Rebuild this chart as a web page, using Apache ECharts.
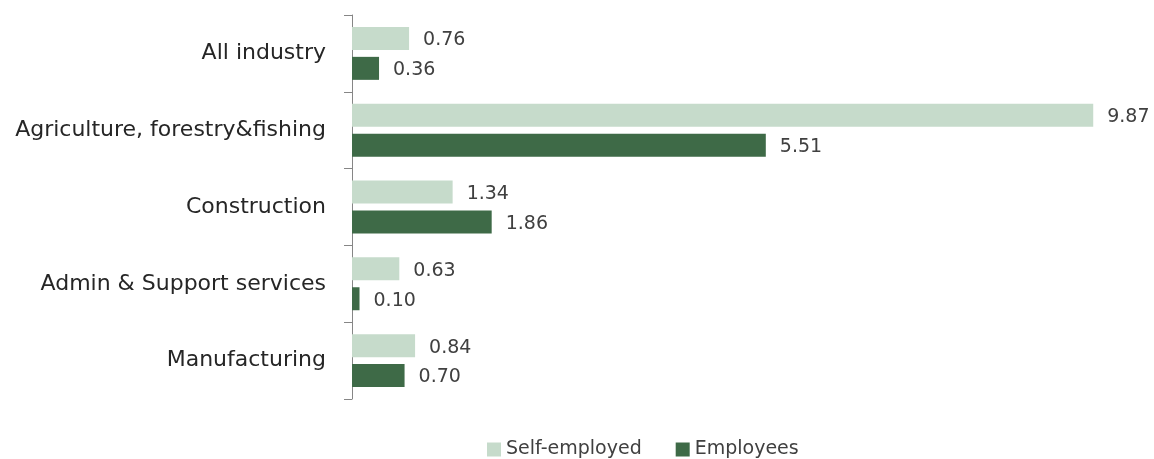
<!DOCTYPE html>
<html><head><meta charset="utf-8">
<script src="https://cdn.jsdelivr.net/npm/echarts@6/dist/echarts.min.js"></script>
<style>html,body{margin:0;padding:0;background:#fff}#c{width:1154px;height:459px}</style>
</head><body><div id="c"></div>
<script>
const categories = ["All industry", "Agriculture, forestry&fishing", "Construction", "Admin & Support services", "Manufacturing"];
const selfEmployed = [0.76, 9.87, 1.34, 0.63, 0.84];
const employees = [0.36, 5.51, 1.86, 0.10, 0.70];
const seriesNames = ["Self-employed", "Employees"];

const FONT = 'DejaVu Sans';
const chart = echarts.init(document.getElementById('c'));
const labelStyle = {show: true, position: 'right', distance: 14, offset: [0, 2], color: '#404040', fontSize: 19, fontFamily: FONT, formatter: p => p.value.toFixed(2)};
chart.setOption({
  animation: false,
  textStyle: {fontFamily: FONT},
  legend: {
    data: seriesNames, left: 482, top: 435, itemWidth: 14, itemHeight: 14, itemGap: 34,
    icon: 'rect', textStyle: {fontSize: 19, color: '#404040', fontFamily: FONT}
  },
  grid: {left: 352, right: 51, top: 15, bottom: 60, containLabel: false},
  xAxis: {type: 'value', min: 0, max: 10, show: false},
  yAxis: {
    type: 'category', data: categories, inverse: true,
    axisLine: {show: true, lineStyle: {color: '#868686', width: 1}},
    axisTick: {show: true, length: 8, lineStyle: {color: '#868686'}},
    axisLabel: {fontSize: 22, color: '#262626', margin: 26, fontFamily: FONT}
  },
  series: [
    {name: seriesNames[0], type: 'bar', data: selfEmployed, barWidth: 23, barGap: '30%',
     itemStyle: {color: '#c6dbcb'}, label: labelStyle},
    {name: seriesNames[1], type: 'bar', data: employees, barWidth: 23,
     itemStyle: {color: '#3e6a47'}, label: labelStyle}
  ]
});
</script></body></html>
